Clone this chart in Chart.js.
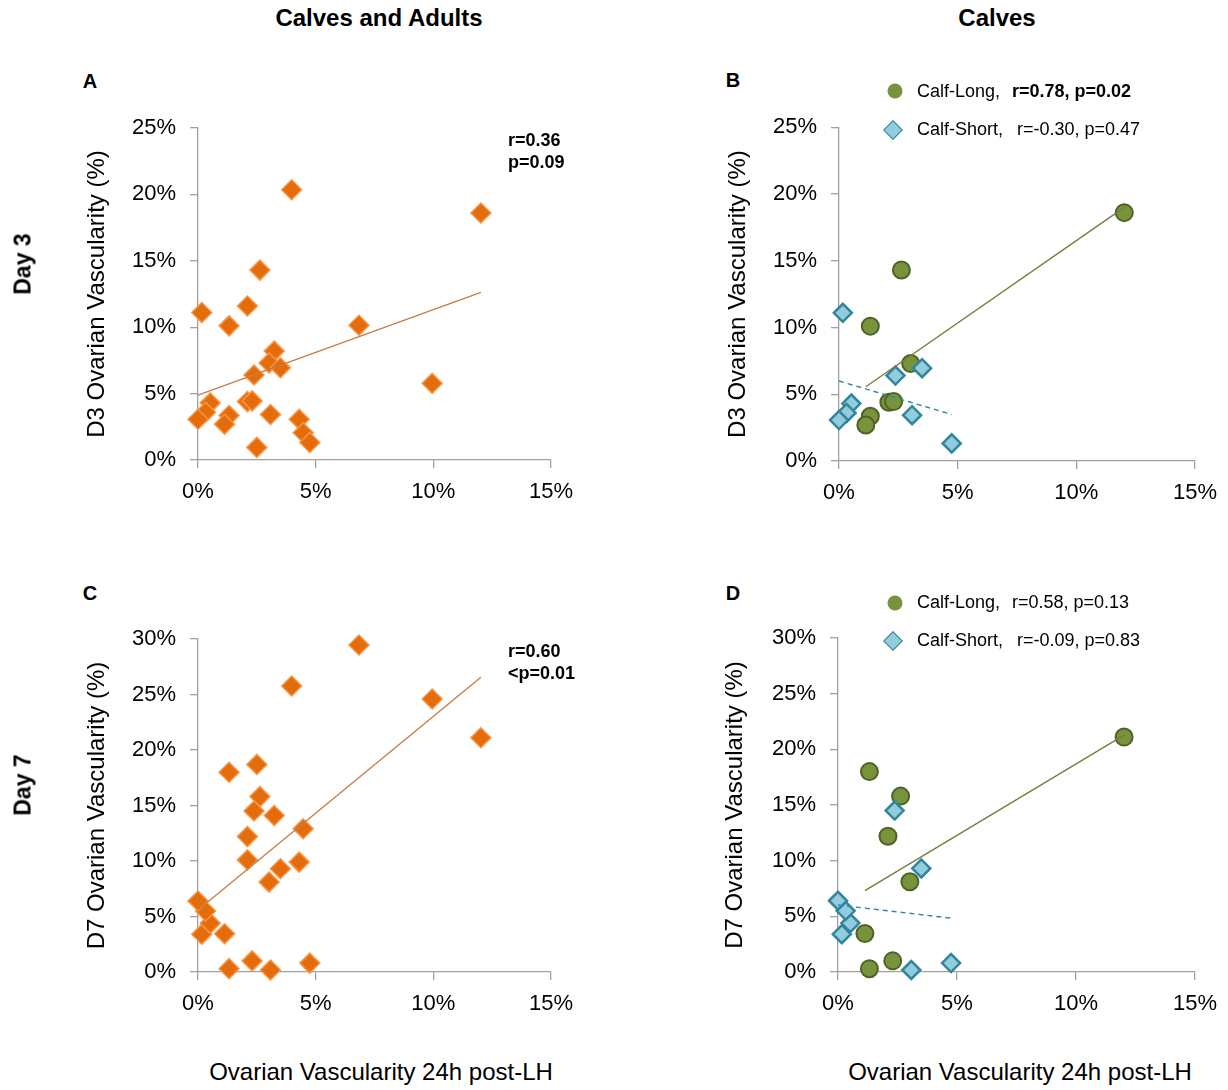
<!DOCTYPE html>
<html>
<head>
<meta charset="utf-8">
<script src="https://cdn.jsdelivr.net/npm/chart.js@4/dist/chart.umd.min.js"></script>
<style>
  body { margin:0; width:1228px; height:1090px; position:relative; overflow:hidden; background:#fff;
         font-family:"Liberation Sans", Arial, sans-serif; color:#000; }
  canvas { position:absolute; }
  .t { position:absolute; white-space:nowrap; line-height:1; }
  .cc { transform:translate(-50%,-50%); }
  .lc { transform:translateY(-50%); }
  .rot { transform:translate(-50%,-50%) rotate(-90deg); }
  .b { font-weight:bold; }
  .head { font-size:24px; font-weight:bold; }
  .letter { font-size:20px; font-weight:bold; }
  .day { font-size:23px; font-weight:bold; }
  .xt { font-size:24px; }
  .stat { font-size:18px; font-weight:bold; line-height:22px; }
  .leg { font-size:18px; }
  .mk-c { position:absolute; width:15px; height:15px; border-radius:50%; background:#77933C; transform:translate(-50%,-50%); }
  .mk-d { position:absolute; width:12px; height:12px; background:#93CDDD; border:1px solid #31859C;
          transform:translate(-50%,-50%) rotate(45deg); }
</style>
</head>
<body>

<canvas id="cA" width="614" height="420" style="left:0;top:100px"></canvas>
<canvas id="cB" width="614" height="420" style="left:614px;top:100px"></canvas>
<canvas id="cC" width="614" height="420" style="left:0;top:610px"></canvas>
<canvas id="cD" width="614" height="420" style="left:614px;top:610px"></canvas>

<!-- column headers -->
<div class="t cc head" style="left:379px;top:18px">Calves and Adults</div>
<div class="t cc head" style="left:997px;top:18px">Calves</div>

<!-- row labels -->
<div class="t rot day" style="left:23px;top:264px">Day 3</div>
<div class="t rot day" style="left:23px;top:785px">Day 7</div>

<!-- panel letters -->
<div class="t cc letter" style="left:90px;top:81px">A</div>
<div class="t cc letter" style="left:733px;top:80px">B</div>
<div class="t cc letter" style="left:90px;top:593px">C</div>
<div class="t cc letter" style="left:733px;top:593px">D</div>

<!-- correlation notes, all animals -->
<div class="t stat" style="left:508px;top:129px">r=0.36<br>p=0.09</div>
<div class="t stat" style="left:508px;top:640px">r=0.60<br>&lt;p=0.01</div>

<!-- legends, calves -->
<div class="mk-c" style="left:895px;top:91px"></div>
<div class="t lc leg" style="left:917px;top:91px">Calf-Long,</div>
<div class="t lc leg b" style="left:1012px;top:91px">r=0.78, p=0.02</div>
<div class="mk-d" style="left:893px;top:130px"></div>
<div class="t lc leg" style="left:917px;top:129px">Calf-Short,</div>
<div class="t lc leg" style="left:1017px;top:129px">r=-0.30, p=0.47</div>

<div class="mk-c" style="left:895px;top:603px"></div>
<div class="t lc leg" style="left:917px;top:602px">Calf-Long,</div>
<div class="t lc leg" style="left:1012px;top:602px">r=0.58, p=0.13</div>
<div class="mk-d" style="left:893px;top:641px"></div>
<div class="t lc leg" style="left:917px;top:640px">Calf-Short,</div>
<div class="t lc leg" style="left:1017px;top:640px">r=-0.09, p=0.83</div>

<!-- shared x-axis titles -->
<div class="t cc xt" style="left:381px;top:1072px">Ovarian Vascularity 24h post-LH</div>
<div class="t cc xt" style="left:1020px;top:1072px">Ovarian Vascularity 24h post-LH</div>

<script>
// Ovarian vascularity (%) 24 h after the LH surge, and on Day 3 and Day 7
const adultX  = [3.98, 2.10, 6.84, 3.24, 9.95, 4.30, 4.47, 2.50];
const adultD3 = [20.35, 11.6, 10.15, 8.2, 5.77, 3.06, 2.05, 0.95];
const adultD7 = [25.76, 10.1, 29.46, 14.1, 24.6, 9.9, 12.9, 18.7];

const longX  = [12.02, 2.63, 1.32, 3.02, 2.10, 2.30, 1.32, 1.13];
const longD3 = [18.6, 14.3, 10.1, 7.3, 4.4, 4.45, 3.35, 2.7];
const longD7 = [21.1, 15.8, 18.0, 8.1, 12.2, 1.0, 0.3, 3.45];

const shortX  = [0.16, 3.50, 2.38, 0.52, 0.32, 3.08, 0.00, 4.75];
const shortD3 = [11.1, 6.95, 6.4, 4.3, 3.6, 3.43, 3.07, 1.32];
const shortD7 = [3.4, 9.3, 14.5, 4.4, 5.5, 0.18, 6.4, 0.8];

const xTicks = [0, 5, 10, 15];
const yTicksD3 = [0, 5, 10, 15, 20, 25];
const yTicksD7 = [0, 5, 10, 15, 20, 25, 30];

Chart.defaults.font.family = '"Liberation Sans", Arial, sans-serif';
Chart.defaults.color = '#000';

const AXIS = '#a0a0a0';

function pts(xs, ys) { return xs.map((x, i) => ({ x, y: ys[i] })); }

// least-squares trend line spanning the group's x range
function trend(xs, ys) {
  const n = xs.length;
  const mx = xs.reduce((a, b) => a + b, 0) / n;
  const my = ys.reduce((a, b) => a + b, 0) / n;
  let sxy = 0, sxx = 0;
  xs.forEach((x, i) => { sxy += (x - mx) * (ys[i] - my); sxx += (x - mx) * (x - mx); });
  const b = sxy / sxx, a = my - b * mx;
  const x0 = Math.min(...xs), x1 = Math.max(...xs);
  return [{ x: x0, y: a + b * x0 }, { x: x1, y: a + b * x1 }];
}

function fixedTicks(values) {
  return scale => { scale.ticks = values.map(v => ({ value: v })); };
}

function makeChart(id, datasets, yTicks, yTitle, lay) {
  new Chart(document.getElementById(id), {
    type: 'scatter',
    data: { datasets },
    options: {
      responsive: false,
      animation: false,
      devicePixelRatio: 1,
      events: [],
      layout: { padding: { left: 0, top: lay.top, right: lay.right, bottom: 0 } },
      plugins: { legend: { display: false }, tooltip: { enabled: false } },
      scales: {
        x: {
          type: 'linear', min: xTicks[0], max: xTicks[xTicks.length - 1],
          afterBuildTicks: fixedTicks(xTicks),
          afterFit: s => { s.height = lay.xh; },
          ticks: { callback: v => v + '%', font: { size: 22 }, padding: 11, maxRotation: 0 },
          grid: { drawOnChartArea: false, color: AXIS, tickLength: 8, lineWidth: 1.3 },
          border: { color: AXIS, width: 1.3 }
        },
        y: {
          type: 'linear', min: yTicks[0], max: yTicks[yTicks.length - 1],
          afterBuildTicks: fixedTicks(yTicks),
          afterFit: s => { s.width = lay.yw; },
          ticks: { callback: v => v + '%', font: { size: 22 }, padding: 14 },
          grid: { drawOnChartArea: false, color: AXIS, tickLength: 8, lineWidth: 1.3 },
          border: { color: AXIS, width: 1.3 },
          title: { display: true, text: yTitle, font: { size: 24 }, padding: { top: lay.tp, bottom: 0 } }
        }
      }
    }
  });
}

const orangePts = (data) => ({
  data, pointStyle: 'rectRot', pointRadius: 10, backgroundColor: '#E46C0A',
  borderColor: '#F79646', borderWidth: 1.5, showLine: false, clip: false
});
const longPts = (data) => ({
  data, pointStyle: 'circle', pointRadius: 8.5, backgroundColor: '#77933C',
  borderColor: '#4F6228', borderWidth: 2, showLine: false, clip: false
});
const shortPts = (data) => ({
  data, pointStyle: 'rectRot', pointRadius: 9, backgroundColor: '#93CDDD',
  borderColor: '#31859C', borderWidth: 2.5, showLine: false, clip: false
});
const line = (data, color, dash) => ({
  data, showLine: true, pointRadius: 0, borderColor: color, borderWidth: 1.4,
  borderDash: dash || [], fill: false, clip: false
});

const allX  = adultX.concat(longX, shortX);
const allD3 = adultD3.concat(longD3, shortD3);
const allD7 = adultD7.concat(longD7, shortD7);

// A: Day 3, calves and adults
makeChart('cA', [
  line(trend(allX, allD3), '#C67E48'),
  orangePts(pts(allX, allD3))
], yTicksD3, 'D3 Ovarian Vascularity (%)', { top: 28, right: 63, xh: 60, yw: 198, tp: 83 });

// B: Day 3, calves by group
makeChart('cB', [
  line(trend(longX, longD3), '#7B7B3E'),
  line(trend(shortX, shortD3), '#31859C', [5, 4]),
  shortPts(pts(shortX, shortD3)),
  longPts(pts(longX, longD3))
], yTicksD3, 'D3 Ovarian Vascularity (%)', { top: 27, right: 32, xh: 59, yw: 225, tp: 110 });

// C: Day 7, calves and adults
makeChart('cC', [
  line(trend(allX, allD7), '#C67E48'),
  orangePts(pts(allX, allD7))
], yTicksD7, 'D7 Ovarian Vascularity (%)', { top: 29, right: 63, xh: 58, yw: 198, tp: 83 });

// D: Day 7, calves by group
makeChart('cD', [
  line(trend(longX, longD7), '#7B7B3E'),
  line(trend(shortX, shortD7), '#31859C', [5, 4]),
  shortPts(pts(shortX, shortD7)),
  longPts(pts(longX, longD7))
], yTicksD7, 'D7 Ovarian Vascularity (%)', { top: 28, right: 33, xh: 58, yw: 224, tp: 107 });
</script>
</body>
</html>
